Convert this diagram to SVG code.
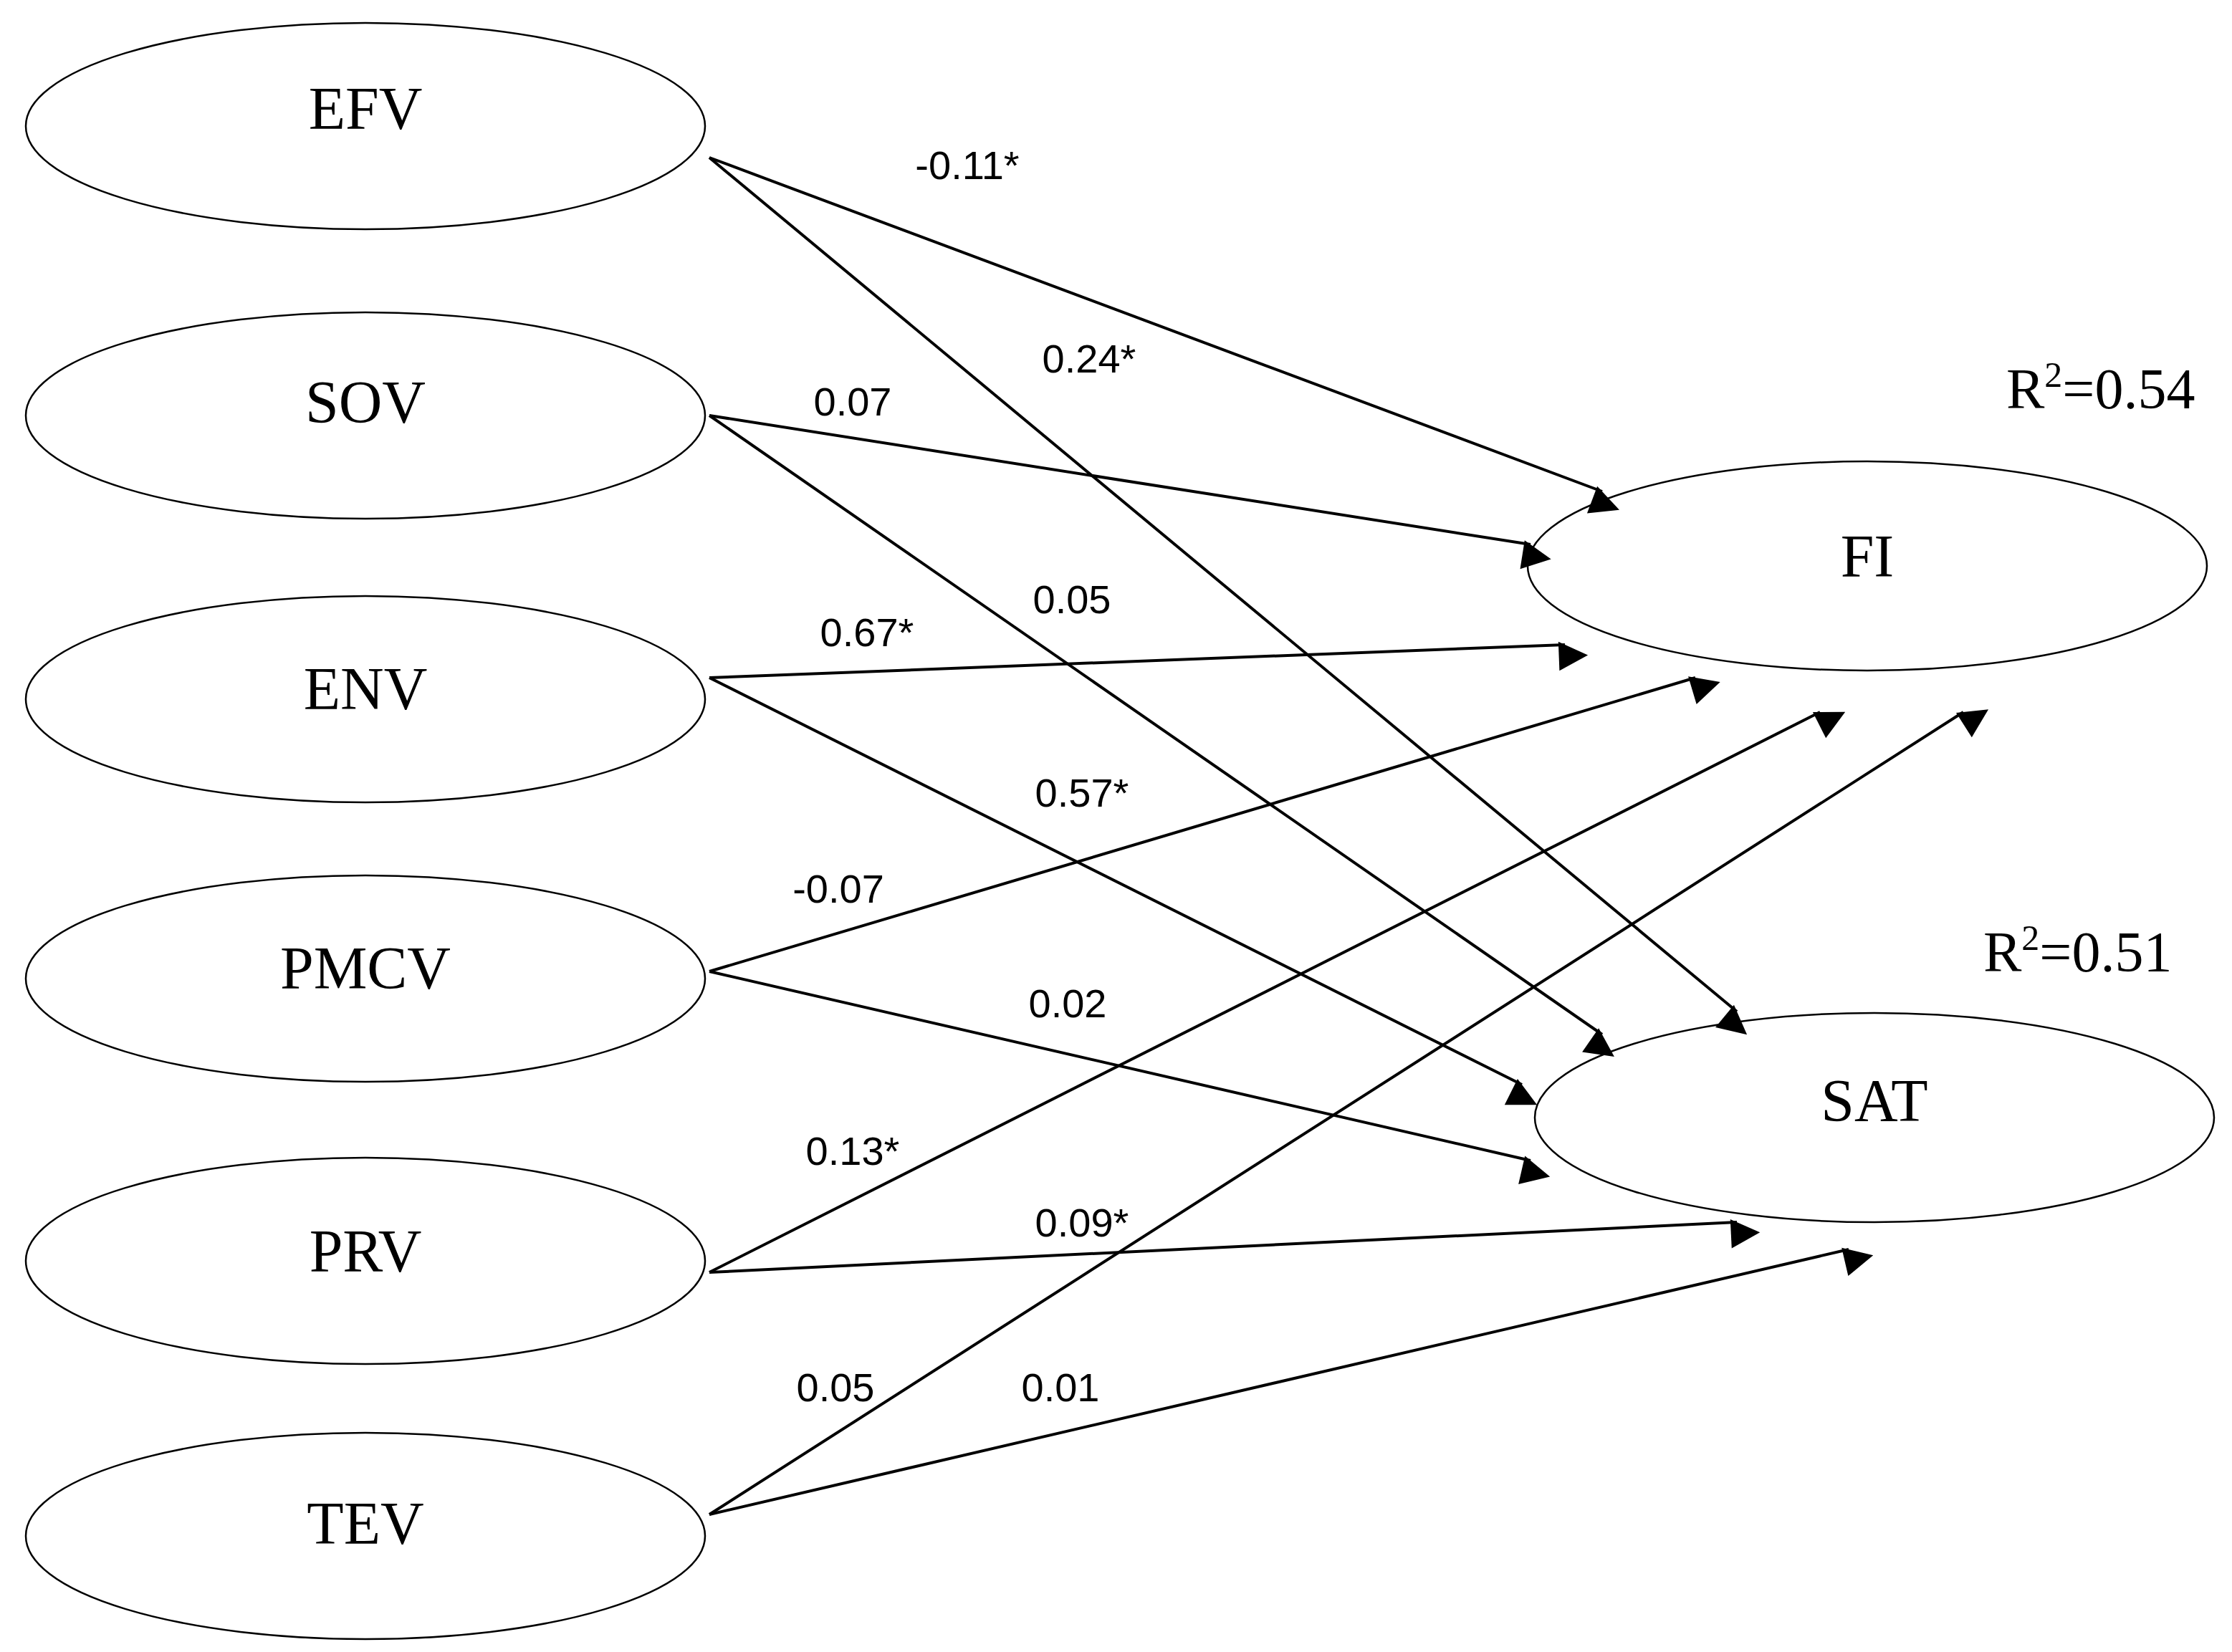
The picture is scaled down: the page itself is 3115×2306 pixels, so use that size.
<svg xmlns="http://www.w3.org/2000/svg" width="3115" height="2306" viewBox="0 0 3115 2306">
<style>
.n{fill:#fff;stroke:#000;stroke-width:2.5}
.t{font-family:"Liberation Serif",serif;font-size:84px;text-anchor:middle}
.l{font-family:"Liberation Sans",sans-serif;font-size:56px;text-anchor:middle}
.r{font-family:"Liberation Serif",serif;font-size:80px}
.c line{stroke:#000;stroke-width:4;marker-end:url(#a)}
</style>
<defs><marker id="a" viewBox="0 0 10 10" refX="10" refY="5" markerWidth="9" markerHeight="9" markerUnits="userSpaceOnUse" orient="auto" style="overflow:visible"><path d="M0,0L10,5L0,10z" transform="scale(4.5)" /></marker></defs>
<rect width="3115" height="2306" fill="#fff"/>
<g id="EFV"><ellipse class="n" cx="510" cy="176" rx="474" ry="144"/><text class="t" x="510" y="180">EFV</text></g>
<g id="SOV"><ellipse class="n" cx="510" cy="580" rx="474" ry="144"/><text class="t" x="510" y="590">SOV</text></g>
<g id="ENV"><ellipse class="n" cx="510" cy="976" rx="474" ry="144"/><text class="t" x="510" y="990">ENV</text></g>
<g id="PMCV"><ellipse class="n" cx="510" cy="1366" rx="474" ry="144"/><text class="t" x="510" y="1380">PMCV</text></g>
<g id="PRV"><ellipse class="n" cx="510" cy="1760" rx="474" ry="144"/><text class="t" x="510" y="1775">PRV</text></g>
<g id="TEV"><ellipse class="n" cx="510" cy="2144" rx="474" ry="144"/><text class="t" x="510" y="2155">TEV</text></g>
<g id="FI"><ellipse class="n" cx="2606" cy="790" rx="474" ry="146"/><text class="t" x="2606" y="805">FI</text></g>
<g id="SAT"><ellipse class="n" cx="2616" cy="1560" rx="474" ry="146"/><text class="t" x="2616" y="1565">SAT</text></g>
<g class="c">
<line x1="990" y1="220" x2="2236" y2="686"/>
<line x1="990" y1="220" x2="2424" y2="1412"/>
<line x1="990" y1="580" x2="2136" y2="760"/>
<line x1="990" y1="580" x2="2236" y2="1444"/>
<line x1="990" y1="946" x2="2184" y2="900"/>
<line x1="990" y1="946" x2="2124" y2="1514"/>
<line x1="990" y1="1356" x2="2366" y2="946"/>
<line x1="990" y1="1356" x2="2136" y2="1620"/>
<line x1="990" y1="1776" x2="2540" y2="994"/>
<line x1="990" y1="1776" x2="2424" y2="1706"/>
<line x1="990" y1="2114" x2="2740" y2="994"/>
<line x1="990" y1="2114" x2="2580" y2="1744"/>
</g>
<g id="labels">
<text class="l" x="1350" y="250">-0.11*</text>
<text class="l" x="1520" y="520">0.24*</text>
<text class="l" x="1190" y="580">0.07</text>
<text class="l" x="1496" y="856">0.05</text>
<text class="l" x="1210" y="902">0.67*</text>
<text class="l" x="1510" y="1126">0.57*</text>
<text class="l" x="1170" y="1260">-0.07</text>
<text class="l" x="1490" y="1420">0.02</text>
<text class="l" x="1190" y="1626">0.13*</text>
<text class="l" x="1510" y="1726">0.09*</text>
<text class="l" x="1166" y="1956">0.05</text>
<text class="l" x="1480" y="1956">0.01</text>
<text class="r" x="2800" y="570">R<tspan font-size="50" dy="-30">2</tspan><tspan dy="30">=0.54</tspan></text>
<text class="r" x="2768" y="1356">R<tspan font-size="50" dy="-30">2</tspan><tspan dy="30">=0.51</tspan></text>
</g>
</svg>
